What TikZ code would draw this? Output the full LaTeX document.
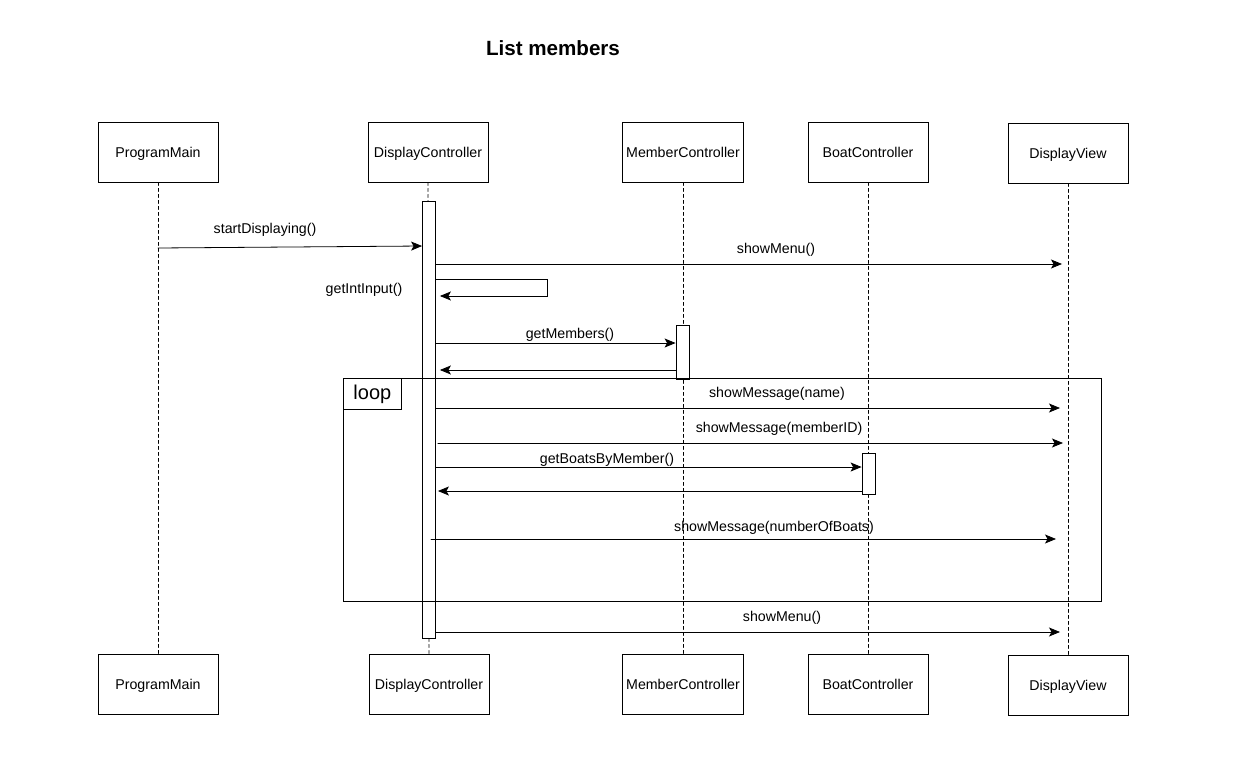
\documentclass[tikz,border=0pt]{standalone}
\usepackage{fontspec}
\setmainfont{Liberation Sans}
\usetikzlibrary{arrows.meta}
\tikzset{
  objbox/.style={draw, line width=0.8pt, minimum width=120pt, minimum height=60pt, text depth=0pt, font=\fontsize{14.2}{16}\selectfont},
  lifeline/.style={line width=0.8pt, dash pattern=on 3pt off 3pt},
  actbar/.style={draw, line width=0.8pt, fill=white, minimum width=13pt, inner sep=0pt},
  msg/.style={-{Stealth[length=11pt,width=9pt,inset=2.5pt]}, line width=0.8pt},
  msglabel/.style={font=\fontsize{14.2}{16}\selectfont, inner sep=1pt},
}

\begin{document}
\begin{tikzpicture}[x=1pt, y=-1pt, line cap=round]
  \useasboundingbox (0,0) rectangle (1257,779);

  % Title
  \node[font=\bfseries\fontsize{20.6}{24}\selectfont] (title) at (553,48) {List members};

  % Objects
  \node[objbox] (pm) at (158,152) {ProgramMain};
  \node[objbox] (dc) at (428,152) {DisplayController};
  \node[objbox] (mc) at (683,152) {MemberController};
  \node[objbox] (bc) at (868,152) {BoatController};
  \node[objbox] (dv) at (1068,153) {DisplayView};

  \node[objbox] (pmb) at (158,684) {ProgramMain};
  \node[objbox] (dcb) at (429,684) {DisplayController};
  \node[objbox] (mcb) at (683,684) {MemberController};
  \node[objbox] (bcb) at (868,684) {BoatController};
  \node[objbox] (dvb) at (1068,685) {DisplayView};

  % Lifelines
  \draw[lifeline] (pm) -- (pmb);
  \draw[lifeline] (dc.south) -- (dcb.north);
  \draw[lifeline] (mc) -- (mcb);
  \draw[lifeline] (bc) -- (bcb);
  \draw[lifeline] (dv) -- (dvb);

  % Activations
  \node[actbar, minimum height=437pt] (dcact) at (429,419.5) {};
  \node[actbar, minimum height=54pt] (mcact) at (682.5,352) {};
  \node[actbar, minimum height=41pt] (bcact) at (868.5,473.5) {};

  % Loop frame
  \draw[line width=0.8pt] (343,378) rectangle (1101,601);
  \node[draw, line width=0.8pt, anchor=north west, minimum width=58pt, minimum height=31pt,
        font=\fontsize{20}{22}\selectfont] (looptag) at (343,378) {loop};

  % Free ends on the lifelines
  \coordinate (pm1) at (pm.south |- 0,248);
  \coordinate (dv1) at (1062,264);
  \coordinate (self1) at (547,279);
  \coordinate (self2) at (547,296);
  \coordinate (dv2) at (1060,408);
  \coordinate (dv3) at (1063,443);
  \coordinate (dc10) at (431,539);
  \coordinate (dv4) at (1056,539);
  \coordinate (dv5) at (1060,632);

  % Messages
  \draw[msg] (pm1) -- (dcact.west |- 0,246);
  \node[msglabel] (l1) at (265,230) {startDisplaying()};

  \draw[msg] (dcact.east |- 0,264) -- (dv1);
  \node[msglabel] (l2) at (776,250) {showMenu()};

  \draw[msg] (dcact.east |- self1) -- (self1) -- (self2) -- ([xshift=4pt]dcact.east |- self2);
  \node[msglabel] (l3) at (364,290) {getIntInput()};

  \draw[msg] (dcact.east |- 0,343) -- (mcact.west |- 0,343);
  \node[msglabel] (l4) at (570,335) {getMembers()};

  \draw[msg] (mcact.west |- 0,370) -- ([xshift=4pt]dcact.east |- 0,370);

  \draw[msg] (dcact.east |- 0,408) -- (dv2);
  \node[msglabel] (l5) at (777,394) {showMessage(name)};

  \draw[msg] ([xshift=2pt]dcact.east |- 0,443) -- (dv3);
  \node[msglabel] (l6) at (779,429) {showMessage(memberID)};

  \draw[msg] (dcact.east |- 0,467) -- (bcact.west |- 0,467);
  \node[msglabel] (l7) at (607,460) {getBoatsByMember()};

  \draw[msg] (bcact.west |- 0,491) -- ([xshift=2pt]dcact.east |- 0,491);

  \draw[msg] (dc10) -- (dv4);
  \node[msglabel] (l8) at (774,528) {showMessage(numberOfBoats)};

  \draw[msg] (dcact.east |- 0,632) -- (dv5);
  \node[msglabel] (l9) at (782,618) {showMenu()};
\end{tikzpicture}
\end{document}
